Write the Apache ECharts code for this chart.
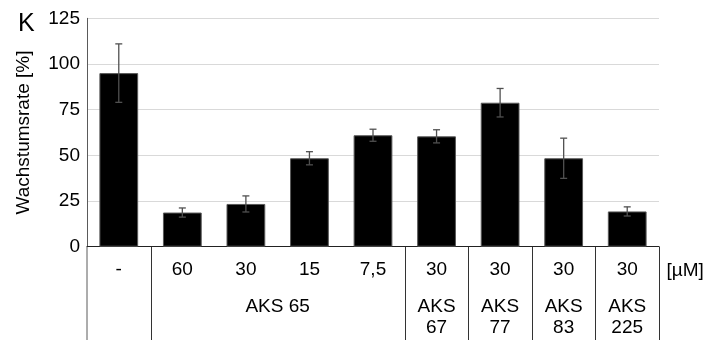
<!DOCTYPE html>
<html><head><meta charset="utf-8">
<script src="https://cdn.jsdelivr.net/npm/echarts@6/dist/echarts.min.js"></script>
<style>html,body{margin:0;padding:0;background:#fff}#c{width:705px;height:340px}</style>
</head><body><div id="c"></div>
<script>
const categories = ['-', '60', '30', '15', '7,5', '30', '30', '30', '30'];
const values = [95, 18.7, 23.4, 48.4, 61, 60.4, 78.8, 48.4, 19.3];
const sd = [16, 2.5, 4.4, 3.6, 3.3, 3.6, 7.8, 11, 2.5];
const groupLabels = ['', 'AKS 65', 'AKS\n67', 'AKS\n77', 'AKS\n83', 'AKS\n225'];
const groupStart = [0, 1, 5, 6, 7, 8];
const groupEnd = [0, 4, 5, 6, 7, 8];
const unitLabel = '[µM]';
const yAxisTitle = 'Wachstumsrate [%]';
const panelLetter = 'K';

const FONT = "'Liberation Sans', Arial, sans-serif";
const chart = echarts.init(document.getElementById('c'), null, {renderer: 'canvas'});

const errData = categories.map((c, i) => [i, values[i] + sd[i], values[i] - sd[i]]);

chart.setOption({
  animation: false,
  backgroundColor: '#fff',
  textStyle: {fontFamily: FONT},
  title: {text: panelLetter, left: 13, top: 7, textStyle: {fontSize: 25, fontWeight: 'normal', color: '#000', fontFamily: FONT}},
  grid: {left: 87, right: 46, top: 18.3, bottom: 93.3},
  xAxis: {
    type: 'category', data: categories,
    axisLine: {lineStyle: {color: '#222', width: 1}},
    axisTick: {show: false},
    axisLabel: {fontSize: 19, color: '#000', margin: 14, fontFamily: FONT, interval: 0}
  },
  yAxis: {
    type: 'value', min: 0, max: 125, interval: 25,
    name: yAxisTitle, nameLocation: 'middle', nameGap: 54,
    nameTextStyle: {fontSize: 19, color: '#000', fontFamily: FONT},
    axisLine: {show: true, lineStyle: {color: '#5a5a5a', width: 1}},
    axisTick: {show: false},
    axisLabel: {fontSize: 19, color: '#000', margin: 7, fontFamily: FONT},
    splitLine: {lineStyle: {color: '#d9d9d9', width: 1}}
  },
  series: [
    {type: 'bar', data: values, barWidth: '61%',
     itemStyle: {color: '#000', borderColor: '#595959', borderWidth: 1}},
    {type: 'custom', data: errData, encode: {x: 0, y: [1, 2]}, z: 5,
     renderItem: function (params, api) {
       const i = api.value(0);
       const hi = api.coord([i, api.value(1)]);
       const lo = api.coord([i, api.value(2)]);
       const w = 3.5;
       const st = {stroke: '#505050', lineWidth: 1.3};
       return {type: 'group', children: [
         {type: 'line', shape: {x1: hi[0], y1: hi[1], x2: lo[0], y2: lo[1]}, style: st},
         {type: 'line', shape: {x1: hi[0] - w, y1: hi[1], x2: hi[0] + w, y2: hi[1]}, style: st},
         {type: 'line', shape: {x1: lo[0] - w, y1: lo[1], x2: lo[0] + w, y2: lo[1]}, style: st}
       ]};
     }}
  ]
});

// table below the axis, positioned from the axis scale
const c0 = chart.convertToPixel({xAxisIndex: 0}, 0);
const c1 = chart.convertToPixel({xAxisIndex: 0}, 1);
const band = c1 - c0;
const y0 = chart.convertToPixel({yAxisIndex: 0}, 0);
const H = chart.getHeight();
const cx = i => chart.convertToPixel({xAxisIndex: 0}, i);
const elements = [];
const lineStyle = {stroke: '#333', lineWidth: 1};
elements.push({type: 'line', shape: {x1: cx(0) - band / 2, y1: y0, x2: cx(0) - band / 2, y2: H}, style: {stroke: '#5a5a5a', lineWidth: 1}});
groupStart.forEach((s, g) => {
  if (s > 0) {
    const x = Math.round(cx(s) - band / 2) + 0.5;
    elements.push({type: 'line', shape: {x1: x, y1: y0, x2: x, y2: H}, style: lineStyle});
  }
  const mid = (cx(s) + cx(groupEnd[g])) / 2;
  if (groupLabels[g]) {
    elements.push({type: 'text', x: mid, y: y0 + 50, style: {text: groupLabels[g], fontSize: 19, fontFamily: FONT, fill: '#000', align: 'center', verticalAlign: 'top', lineHeight: 21}});
  }
});
const xr = Math.round(cx(categories.length - 1) + band / 2) + 0.5;
elements.push({type: 'line', shape: {x1: xr, y1: y0, x2: xr, y2: H}, style: lineStyle});
elements.push({type: 'text', x: xr + 7, y: y0 + 24, style: {text: unitLabel, fontSize: 19, fontFamily: FONT, fill: '#000', align: 'left', verticalAlign: 'middle'}});
chart.setOption({graphic: elements});
</script>
</body></html>
